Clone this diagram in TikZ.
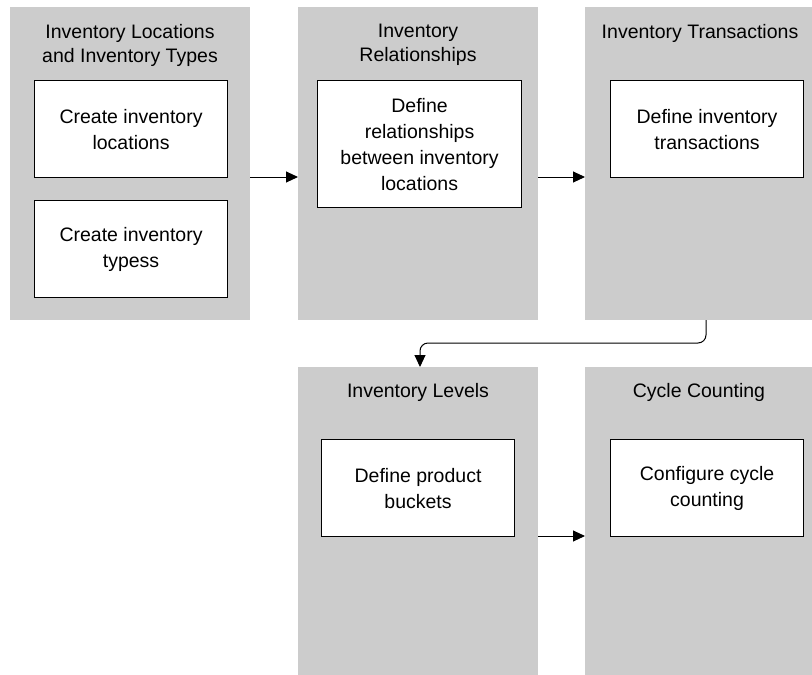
\documentclass[tikz,border=0pt]{standalone}
\usepackage{fontspec}
\setmainfont{Liberation Sans}
\usetikzlibrary{arrows.meta}
\definecolor{panelgray}{HTML}{CCCCCC}
\begin{document}
\begin{tikzpicture}[x=1pt,y=-1pt,
  panel/.style={fill=panelgray, draw=none, anchor=north west, inner sep=0pt},
  title/.style={align=center, font=\fontsize{19.5}{24}\selectfont, inner sep=0pt},
  task/.style={draw=black, fill=white, line width=1.1pt, anchor=north west, inner sep=0pt,
    align=center, font=\fontsize{19.5}{26}\selectfont},
  conn/.style={line width=1pt, -{Triangle[length=12pt,width=11pt]}}
]
\useasboundingbox (0,0) rectangle (812,675);
% panels
\node[panel, minimum width=240pt, minimum height=313pt] (p1) at (10,7) {};
\node[panel, minimum width=240pt, minimum height=313pt] (p2) at (298,7) {};
\node[panel, minimum width=227pt, minimum height=313pt] (p3) at (585,7) {};
\node[panel, minimum width=240pt, minimum height=308pt] (p4) at (298,367) {};
\node[panel, minimum width=227pt, minimum height=308pt] (p5) at (585,367) {};
% titles
\node[title] (t1) at (130,45) {Inventory Locations\\and Inventory Types};
\node[title] (t2) at (418,45) {Inventory\\Relationships};
\node[title] (t3) at (700,33) {Inventory Transactions};
\node[title] (t4) at (418,392) {Inventory Levels};
\node[title] (t5) at (699,392) {Cycle Counting};
% tasks
\node[task, minimum width=193pt, minimum height=97pt] (b1) at (34,80) {Create inventory\\locations};
\node[task, minimum width=193pt, minimum height=97pt] (b2) at (34,200) {Create inventory\\typess};
\node[task, minimum width=204pt, minimum height=127pt] (b3) at (317,80) {Define\\relationships\\between inventory\\locations};
\node[task, minimum width=193pt, minimum height=97pt] (b4) at (610,80) {Define inventory\\transactions};
\node[task, minimum width=193pt, minimum height=97pt] (b5) at (321,439) {Define product\\buckets};
\node[task, minimum width=193pt, minimum height=97pt] (b6) at (610,439) {Configure cycle\\counting};
% connector anchors
\coordinate (c1) at (250,177);
\coordinate (c2) at (298,177);
\coordinate (c3) at (538,177);
\coordinate (c4) at (585,177);
\coordinate (c5) at (706,320);
\coordinate (c6) at (420,367);
\coordinate (c7) at (538,536);
\coordinate (c8) at (585,536);
\draw[conn] (c1) -- (c2);
\draw[conn] (c3) -- (c4);
\draw[conn, rounded corners=8pt] (c5) -- ++(0,23) -| (c6);
\draw[conn] (c7) -- (c8);
\end{tikzpicture}
\end{document}
